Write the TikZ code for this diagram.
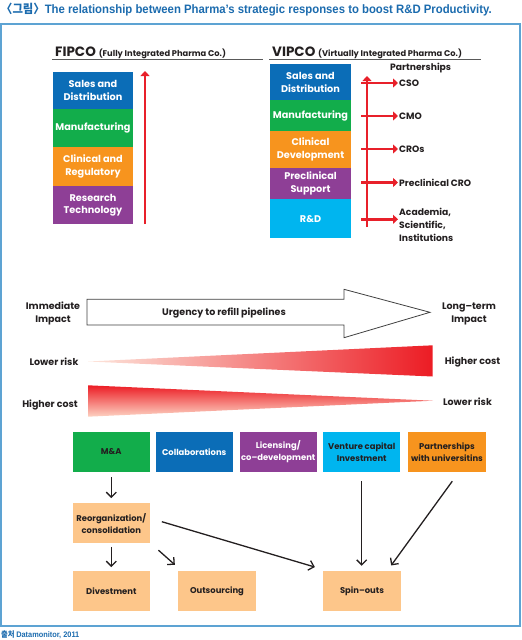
\documentclass[tikz,border=0pt]{standalone}
\usepackage{fontspec}
\setmainfont{Poppins}
\newfontfamily\titlefont{Liberation Sans}
\newfontfamily\cjk{Noto Sans CJK KR}
\usetikzlibrary{arrows.meta,calc}
\definecolor{titleblue}{HTML}{1B6BAE}
\definecolor{framec}{HTML}{5DA3D3}
\definecolor{cblue}{HTML}{0B6DB7}
\definecolor{cgreen}{HTML}{12AD4B}
\definecolor{corange}{HTML}{F7941E}
\definecolor{cpurple}{HTML}{8E3F96}
\definecolor{ccyan}{HTML}{00B5EF}
\definecolor{cpeach}{HTML}{FDC68A}
\definecolor{cred}{HTML}{E8202A}
\definecolor{dark}{HTML}{231F20}
\definecolor{wedgelight}{HTML}{FDE6DC}
\definecolor{wedgelight2}{HTML}{FDD3C3}
\definecolor{wedgemid}{HTML}{F58E74}
\definecolor{wedgered}{HTML}{EC1C24}
\tikzset{
  colbox/.style={minimum width=80pt, inner sep=0pt, align=center, text=white,
    font=\fontsize{9.7}{12.5}\selectfont\bfseries},
  rowbox/.style={minimum width=77.3pt, minimum height=40pt, inner sep=0pt, align=center,
    font=\fontsize{8.4}{12}\selectfont\bfseries},
  lbl/.style={inner sep=0pt, align=center, text=dark, font=\fontsize{9.5}{13}\selectfont\bfseries},
  plbl/.style={inner sep=1pt, align=left, text=dark, font=\fontsize{9.2}{13}\selectfont\bfseries},
  redarr/.style={draw=cred, line width=2.6pt, -{Triangle[width=9pt,length=5pt]}},
  blk/.style={draw=dark, line width=1.3pt, -{Straight Barb[length=5pt,width=10pt]}},
  hdrline/.style={draw=black!65, line width=1pt}
}
\begin{document}
\begin{tikzpicture}[x=1pt,y=-1pt]
\useasboundingbox (0,0) rectangle (522,640);
% title
\node[anchor=base west, inner sep=0pt, text=titleblue, font=\fontsize{12.2}{14}\selectfont\bfseries] (title) at (1,13)
  {\scalebox{0.93}[1]{{\cjk 〈그림〉}\titlefont The relationship between Pharma’s strategic responses to boost R\&D Productivity.}};
% frame
\draw[framec, line width=1.3pt] (1,24) rectangle (520,626);
% footer
\node[anchor=base west, inner sep=0pt, text=titleblue, font=\fontsize{8}{9}\selectfont\bfseries] (src) at (1,637.5)
  {\scalebox{0.92}[1]{{\cjk 출처} \titlefont Datamonitor, 2011}};

% headers
\node[anchor=base west, inner sep=0pt, text=dark] (fipco) at (55,56)
  {\fontsize{13.5}{15}\selectfont\bfseries FIPCO \fontsize{8.3}{10}\selectfont(Fully Integrated Pharma Co.)};
\draw[hdrline] (52,59.5) -- (263,59.5);
\node[anchor=base west, inner sep=0pt, text=dark] (vipco) at (272,56)
  {\fontsize{13.5}{15}\selectfont\bfseries VIPCO \fontsize{8.3}{10}\selectfont(Virtually Integrated Pharma Co.)};
\draw[hdrline] (269,59.5) -- (481,59.5);

% FIPCO column
\node[colbox, fill=cblue, minimum height=38pt] (fsales) at (93,90.5) {Sales and\\Distribution};
\node[colbox, fill=cgreen, minimum height=38pt] (fmanu) at (93,128.3) {Manufacturing};
\node[colbox, fill=corange, minimum height=38.6pt] (fclin) at (93,166.5) {Clinical and\\Regulatory};
\node[colbox, fill=cpurple, minimum height=38.3pt] (fres) at (93,205) {Research\\Technology};
\coordinate (fbot) at (145,224);
\coordinate (ftop) at (145,71);
\draw[redarr] (fbot) -- (ftop);

% VIPCO column
\node[colbox, fill=cblue, minimum width=81pt, minimum height=35.8pt] (vsales) at (310.5,82.2) {Sales and\\Distribution};
\node[colbox, fill=cgreen, minimum width=81pt, minimum height=31pt] (vmanu) at (310.5,115.5) {Manufacturing};
\node[colbox, fill=corange, minimum width=81pt, minimum height=36.8pt] (vclin) at (310.5,149.4) {Clinical\\Development};
\node[colbox, fill=cpurple, minimum width=81pt, minimum height=31.7pt] (vpre) at (310.5,183.5) {Preclinical\\Support};
\node[colbox, fill=ccyan, minimum width=81pt, minimum height=39pt] (vrd) at (310.5,218.8) {R\&D};

\node[plbl, anchor=west] (partn) at (389,68.5) {Partnerships};
\node[plbl, anchor=west] (cso) at (398,83) {CSO};
\node[plbl, anchor=west] (cmo) at (398,116) {CMO};
\node[plbl, anchor=west] (cros) at (398,149) {CROs};
\node[plbl, anchor=west] (pcro) at (398,182.5) {Preclinical CRO};
\node[plbl, anchor=west] (acad) at (398,225) {Academia,\\Scientific,\\Institutions};
\coordinate (vbot) at (367,227);
\coordinate (vtop) at (367,76);
\draw[redarr] (vbot) -- (vtop);
\draw[redarr] ($(cso.west)+(-37,0)$) -- (cso.west);
\draw[redarr] ($(cmo.west)+(-37,0)$) -- (cmo.west);
\draw[redarr] ($(cros.west)+(-37,0)$) -- (cros.west);
\draw[redarr] ($(pcro.west)+(-37,0)$) -- (pcro.west);
\draw[redarr] ($(acad.west)+(-37,-5.7)$) -- ($(acad.west)+(0,-5.7)$);

% big hollow arrow
\draw[draw=black!75, line width=0.8pt, fill=white] (87,299.3) -- (344,299.3) -- (344,289.3) -- (430,312.3)
  -- (344,337.7) -- (344,325) -- (87,325) -- cycle;
\node[lbl] (urg) at (224,313) {Urgency to refill pipelines};
\node[lbl] (imm) at (53,313.5) {Immediate\\Impact};
\node[lbl] (lng) at (469,313.5) {Long–term\\Impact};

% wedges
\shade[left color=wedgelight, right color=wedgered] (88,361.5) -- (432.7,345.3) -- (432.7,376.5) -- cycle;
\shade[top color=wedgered, middle color=wedgemid, bottom color=wedgelight2] (88,385.3) -- (433,400.7) -- (88,416.7) -- cycle;
\node[lbl] (lr1) at (54,362) {Lower risk};
\node[lbl] (hc1) at (472.5,362) {Higher cost};
\node[lbl] (hc2) at (50,405) {Higher cost};
\node[lbl] (lr2) at (467.5,401.5) {Lower risk};

% strategy boxes
\node[rowbox, fill=cgreen, text=dark] (ma) at (111.3,451.7) {M\&A};
\node[rowbox, fill=cblue, text=white] (collab) at (194.2,451.7) {Collaborations};
\node[rowbox, fill=cpurple, text=white] (lic) at (278.2,451.7) {Licensing/\\co–development};
\node[rowbox, fill=ccyan, text=dark] (vc) at (361.7,451.7) {Venture capital\\Investment};
\node[rowbox, fill=corange, text=dark] (pu) at (447,451.7) {Partnerships\\with universitins};

\node[rowbox, fill=cpeach, text=dark] (reorg) at (111.3,523.3) {Reorganization/\\consolidation};
\node[rowbox, fill=cpeach, text=dark, minimum height=39.7pt] (div) at (111.3,590.8) {Divestment};
\node[rowbox, fill=cpeach, text=dark, minimum height=39.7pt] (outs) at (217,590.8) {Outsourcing};
\node[rowbox, fill=cpeach, text=dark, minimum height=39.7pt] (spin) at (362,590.8) {Spin–outs};

% connectors
\draw[blk] ($(ma.south)+(0,5.3)$) -- ($(reorg.north)+(0,-5)$);
\draw[blk] ($(reorg.south)+(0,3.4)$) -- ($(div.north)+(0,-3.7)$);
\draw[blk] ($(reorg.south east)+(8.3,6.7)$) -- ($(outs.north west)+(-3.3,-6)$);
\draw[blk] ($(reorg.east)+(11.7,-1.6)$) -- ($(spin.north west)+(-8.3,-3.7)$);
\draw[blk] ($(vc.south)+(0,9.3)$) -- ($(spin.north)+(-0.3,-5)$);
\draw[blk] ($(pu.south)+(5.3,9.3)$) -- ($(spin.north east)+(-9.7,-5.3)$);
\end{tikzpicture}
\end{document}
